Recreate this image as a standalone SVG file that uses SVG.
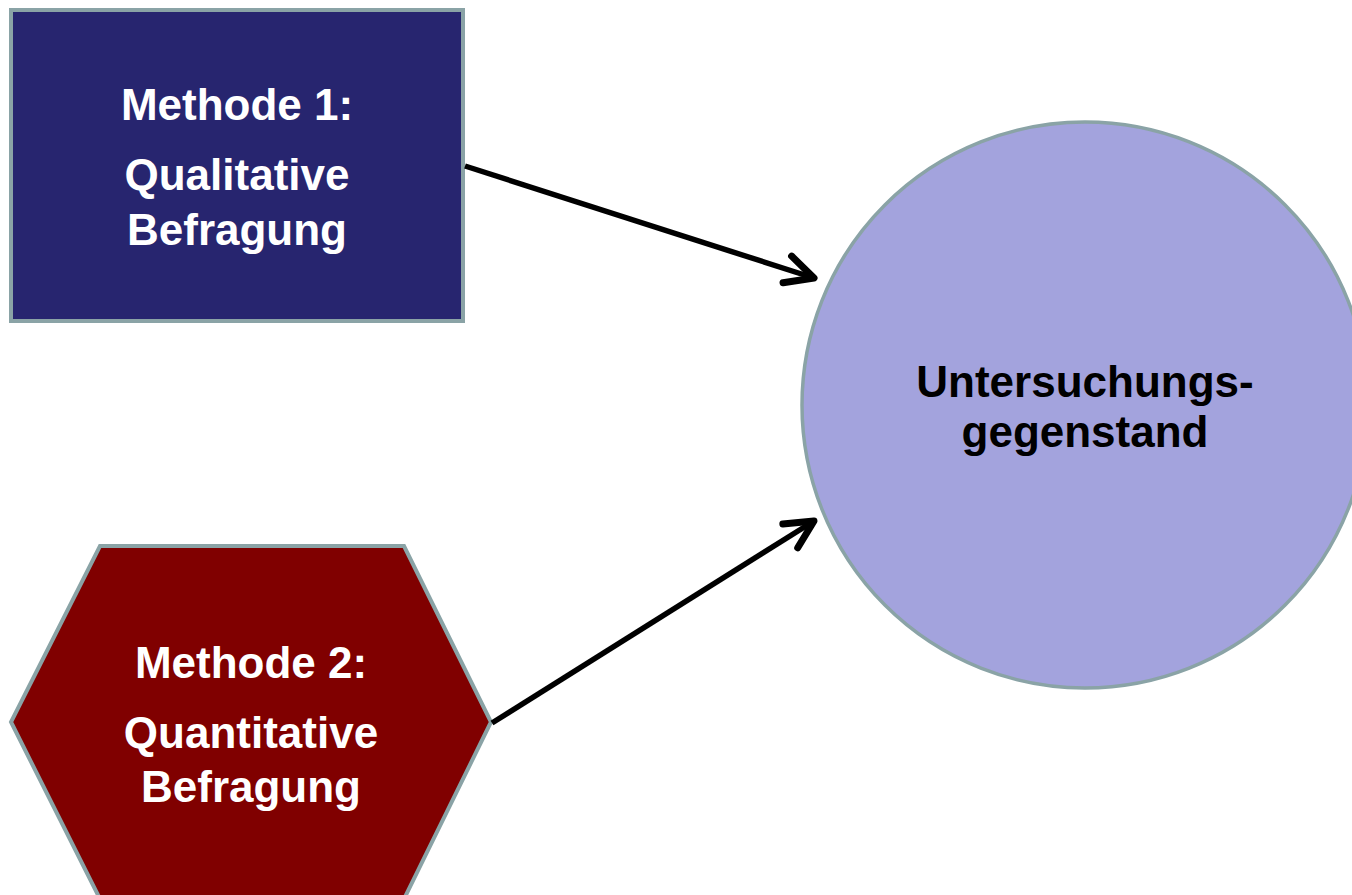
<svg xmlns="http://www.w3.org/2000/svg" width="1352" height="895" viewBox="0 0 1352 895">
  <style>
    .lbl { font-family: "Liberation Sans", Arial, sans-serif; font-weight: bold; font-size: 44px; text-anchor: middle; }
    .white { fill: #ffffff; }
    .black { fill: #000000; }
    .edge { stroke: #8aa3a6; }
    .conn { stroke: #000000; stroke-width: 5.5; fill: none; }
  </style>
  <defs>
    <marker id="arrow" markerUnits="userSpaceOnUse" markerWidth="60" markerHeight="60" refX="0" refY="0" orient="auto" overflow="visible">
      <path d="M -28,-14 L 0,0 L -28,14" fill="none" stroke="#000000" stroke-width="7" stroke-linecap="round" stroke-linejoin="round"/>
    </marker>
  </defs>
  <rect width="1352" height="895" fill="#ffffff"/>

  <g id="node-methode1">
    <rect x="11" y="10" width="452" height="311" fill="#27256f" class="edge" stroke-width="4"/>
    <text class="lbl white" x="237" y="120">Methode 1:</text>
    <text class="lbl white" x="237" y="190">Qualitative</text>
    <text class="lbl white" x="237" y="245">Befragung</text>
  </g>

  <g id="node-methode2">
    <polygon points="100,546 404,546 491,722 404,899 100,899 11,722" fill="#800000" class="edge" stroke-width="4"/>
    <text class="lbl white" x="251" y="678">Methode 2:</text>
    <text class="lbl white" x="251" y="748">Quantitative</text>
    <text class="lbl white" x="251" y="802">Befragung</text>
  </g>

  <g id="node-untersuchungsgegenstand">
    <circle cx="1085" cy="405" r="283" fill="#a3a3dd" class="edge" stroke-width="3.5"/>
    <text class="lbl black" x="1085" y="397">Untersuchungs-</text>
    <text class="lbl black" x="1085" y="447">gegenstand</text>
  </g>

  <g id="connectors">
    <line class="conn" x1="465" y1="166" x2="814" y2="278" marker-end="url(#arrow)"/>
    <line class="conn" x1="492" y1="723" x2="814" y2="521" marker-end="url(#arrow)"/>
  </g>
</svg>
